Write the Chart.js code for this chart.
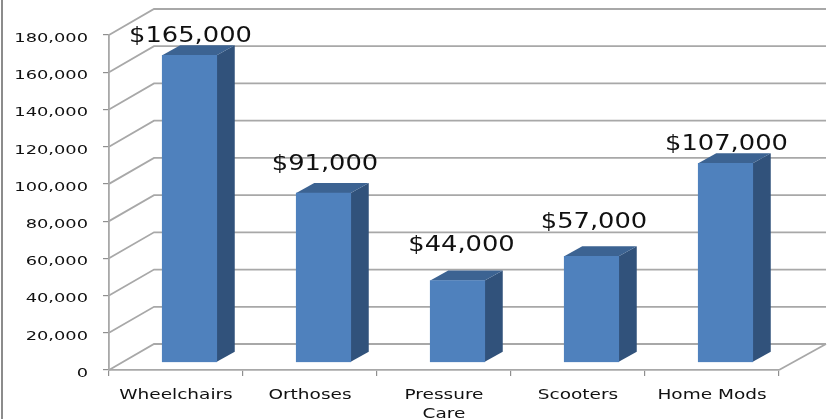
<!DOCTYPE html>
<html><head><meta charset="utf-8">
<style>html,body{margin:0;padding:0;background:#fff;overflow:hidden}canvas{display:block;filter:blur(0.45px)}</style>
<script src="https://cdn.jsdelivr.net/npm/chart.js@4"></script>
</head><body><canvas id="c" width="827" height="419"></canvas>
<script>
const categories = ['Wheelchairs','Orthoses',['Pressure','Care'],'Scooters','Home Mods'];
const values = [165000,91000,44000,57000,107000];
const dataLabels = ['$165,000','$91,000','$44,000','$57,000','$107,000'];
const labelLift = [13,23,30,28,13];
const labelShift = [1,1.5,4,2.5,1];

const wall = {dx:45, dy:-26, right:826};
const barShift = {dx:13.5, dy:-7.6};
const face = {dx:18, dy:-10};
const gridColor = '#a8a8a8';
let stretch = 1.37;
let textDrop = 3.5;

const canvas = document.getElementById('c');
const ctx = canvas.getContext('2d');
const rawFill = ctx.fillText.bind(ctx);
ctx.fillText = function(t,x,y){
  ctx.save(); ctx.translate(x,y+textDrop); ctx.scale(stretch,1); rawFill(t,0,0); ctx.restore();
};

function line(c,pts,color,w){
  c.beginPath(); pts.forEach((p,i)=>i?c.lineTo(p[0],p[1]):c.moveTo(p[0],p[1]));
  c.strokeStyle=color; c.lineWidth=w; c.stroke();
}
function poly(c,pts,color){
  c.beginPath(); pts.forEach((p,i)=>i?c.lineTo(p[0],p[1]):c.moveTo(p[0],p[1]));
  c.closePath(); c.fillStyle=color; c.fill();
}
const scene = {
  id:'scene',
  beforeDraw(chart){
    line(chart.ctx,[[2,0],[2,419]],'#8c8c8c',2);
  },
  beforeDatasetsDraw(chart){
    const c=chart.ctx, y=chart.scales.y, a=chart.chartArea;
    y.ticks.forEach(t=>{
      const p=y.getPixelForValue(t.value);
      line(c,[[a.left,p],[a.left+wall.dx,p+wall.dy],[wall.right,p+wall.dy]],gridColor,1.8);
    });
    const b=y.getPixelForValue(0);
    line(c,[[wall.right,b+wall.dy],[a.right,b]],gridColor,1.8);
    c.save(); c.translate(barShift.dx,barShift.dy);
    chart.getDatasetMeta(0).data.forEach(el=>{
      const p=el.getProps(['x','y','base','width'],true);
      const l=p.x-p.width/2, r=p.x+p.width/2;
      poly(c,[[r,p.y],[r+face.dx,p.y+face.dy],[r+face.dx,p.base+face.dy],[r,p.base]],'#31527b');
      poly(c,[[l,p.y],[l+face.dx,p.y+face.dy],[r+face.dx,p.y+face.dy],[r,p.y]],'#3c6392');
    });
  },
  afterDatasetsDraw(chart){
    const c=chart.ctx;
    c.restore();
    c.save();
    stretch=1.17; textDrop=0;
    c.font='22px "DejaVu Sans"'; c.fillStyle='#111'; c.textAlign='center'; c.textBaseline='alphabetic';
    chart.getDatasetMeta(0).data.forEach((el,i)=>{
      c.fillText(dataLabels[i], el.x+barShift.dx+labelShift[i], el.y+barShift.dy-labelLift[i]);
    });
    stretch=1.37; textDrop=3.5;
    c.restore();
  }
};
new Chart(ctx,{
  type:'bar',
  data:{labels:categories,datasets:[{data:values,backgroundColor:'#4f81bd',barThickness:54.5,borderWidth:0}]},
  plugins:[scene],
  options:{
    responsive:false,animation:false,
    layout:{padding:{left:0,right:48,top:35,bottom:0}},
    plugins:{legend:{display:false},tooltip:{enabled:false},title:{display:false}},
    scales:{
      x:{
        afterFit(s){s.height=49;},
        grid:{drawOnChartArea:false,drawTicks:true,tickLength:6,color:'#8f8f8f',lineWidth:1.2},
        border:{color:gridColor,width:1.8},
        ticks:{color:'#111',padding:6.5,autoSkip:false,maxRotation:0,font:{family:'"DejaVu Sans"',size:13.5,lineHeight:1.4}}
      },
      y:{
        min:0,max:180000,
        afterFit(s){s.width=109;},
        grid:{drawOnChartArea:false,drawTicks:true,tickLength:6,color:'#8f8f8f',lineWidth:1.2},
        border:{color:gridColor,width:1.8},
        ticks:{stepSize:20000,color:'#111',padding:15,font:{family:'"DejaVu Sans"',size:13},
          callback:v=>v.toLocaleString('en-US')}
      }
    }
  }
});
</script></body></html>
